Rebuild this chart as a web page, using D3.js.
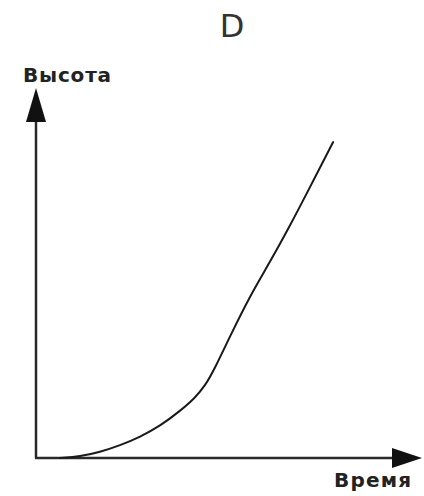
<!DOCTYPE html>
<html>
<head>
<meta charset="utf-8">
<script src="https://cdn.jsdelivr.net/npm/d3@7"></script>
<style>
  html, body { margin: 0; padding: 0; background: #fff; }
  svg { display: block; }
</style>
</head>
<body>
<svg id="chart" width="424" height="496"></svg>
<script>
// Height vs. time: slow start, then a near-linear climb
const title = "D";
const xLabel = "Время";
const yLabel = "Высота";
const time   = [0.63, 1.16, 1.68, 2.21, 2.74, 3.26, 3.79, 4.18, 4.45, 4.71, 5.11, 5.63, 6.16, 6.68, 7.21, 7.82];
const height = [0,    0.04, 0.16, 0.34, 0.57, 0.86, 1.27, 1.62, 1.95, 2.43, 3.30, 4.38, 5.30, 6.27, 7.32, 8.54];

const svg = d3.select("#chart");
const x = d3.scaleLinear().domain([0, 10]).range([36, 416]);
const y = d3.scaleLinear().domain([0, 10]).range([458, 88]);

const axisColor = "#2a2a2a";

// Axes drawn as plain lines with arrowheads
svg.append("line")
  .attr("x1", x(0)).attr("y1", y(0))
  .attr("x2", x(0)).attr("y2", y(10) + 20)
  .attr("stroke", axisColor).attr("stroke-width", 2.5);
svg.append("line")
  .attr("x1", x(0) - 1).attr("y1", y(0))
  .attr("x2", x(10) - 20).attr("y2", y(0))
  .attr("stroke", axisColor).attr("stroke-width", 2.5);

// Arrowheads
svg.append("path")
  .attr("d", `M${x(0)},${y(10)} L${x(0) - 10},${y(10) + 34} L${x(0) + 10},${y(10) + 34} Z`)
  .attr("fill", "#111");
svg.append("path")
  .attr("d", `M${x(10) + 6},${y(0)} L${x(10) - 24},${y(0) - 10} L${x(10) - 24},${y(0) + 10} Z`)
  .attr("fill", "#111");

// Curve
const line = d3.line()
  .x((d, i) => x(time[i]))
  .y((d, i) => y(height[i]))
  .curve(d3.curveBasis);
svg.append("path")
  .datum(time)
  .attr("d", line)
  .attr("fill", "none")
  .attr("stroke", "#1a1a1a")
  .attr("stroke-width", 2)
  .attr("stroke-linecap", "round");

// Labels
svg.append("text")
  .attr("x", 232).attr("y", 37)
  .attr("text-anchor", "middle")
  .attr("font-family", "'DejaVu Sans', sans-serif")
  .attr("font-size", 32)
  .attr("font-weight", "normal")
  .attr("fill", "#333")
  .text(title);

svg.append("text")
  .attr("x", 23).attr("y", 82)
  .attr("font-family", "'DejaVu Sans', sans-serif")
  .attr("font-size", 20)
  .attr("font-weight", "bold")
  .attr("letter-spacing", 0.8)
  .attr("fill", "#222")
  .text(yLabel);

svg.append("text")
  .attr("x", 334).attr("y", 487)
  .attr("font-family", "'DejaVu Sans', sans-serif")
  .attr("font-size", 20)
  .attr("font-weight", "bold")
  .attr("letter-spacing", 1.2)
  .attr("fill", "#222")
  .text(xLabel);
</script>
</body>
</html>
